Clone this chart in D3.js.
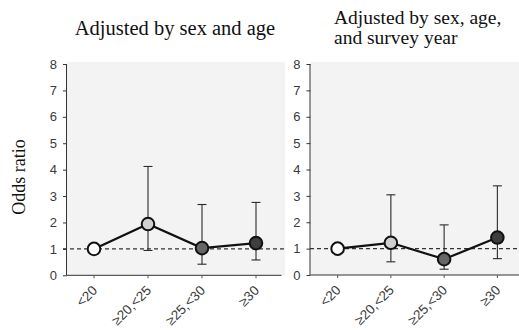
<!DOCTYPE html>
<html>
<head>
<meta charset="utf-8">
<script src="https://cdn.jsdelivr.net/npm/d3@7"></script>
<style>
  html, body { margin: 0; padding: 0; background: #fff; }
  svg { display: block; }
</style>
</head>
<body>
<svg id="chart" width="519" height="331"></svg>
<script>
// BMI categories and odds ratios (with 95% CI) for the two models
const categories = ["<20", "≥20,<25", "≥25,<30", "≥30"];
const orSexAge = [1.0, 1.94, 1.03, 1.22];
const lowSexAge = [null, 0.94, 0.42, 0.58];
const highSexAge = [null, 4.12, 2.68, 2.76];
const orSexAgeYear = [1.0, 1.22, 0.6, 1.42];
const lowSexAgeYear = [null, 0.5, 0.22, 0.62];
const highSexAgeYear = [null, 3.04, 1.9, 3.38];
const yTicks = [0, 1, 2, 3, 4, 5, 6, 7, 8];
const markerFills = ["#ffffff", "#d0d0d0", "#666666", "#3e3e3e"];
const referenceOR = 1;

const svg = d3.select("#chart");

const panels = [
  { or: orSexAge, low: lowSexAge, high: highSexAge,
    x0: 67, x1: 283, xPad0: 67, dashFrom: 63, dashTo: 285, bgTo: 285, y0: 275.3,
    title: ["Adjusted by sex and age"], titleX: 175, titleY: 35, anchor: "middle", lineGap: 0 },
  { or: orSexAgeYear, low: lowSexAgeYear, high: highSexAgeYear,
    x0: 310.5, x1: 524, xPad0: 311, dashFrom: 310, dashTo: 519, bgTo: 519, y0: 275,
    title: ["Adjusted by sex, age,", "and survey year"], titleX: 334, titleY: 24, anchor: "start", lineGap: 20 }
];

panels.forEach(p => {
  const g = svg.append("g");
  const y = d3.scaleLinear().domain([0, 8]).range([p.y0, 64]);
  const x = d3.scalePoint().domain(categories).range([p.xPad0, p.x1]).padding(0.5);

  // plot background
  g.append("rect")
    .attr("x", p.x0).attr("y", y(8.08))
    .attr("width", p.bgTo - p.x0).attr("height", y(0) - y(8.08))
    .attr("fill", "#f3f3f3");

  // y axis
  const yAxis = d3.axisLeft(y).tickValues(yTicks).tickSize(4).tickPadding(6)
    .tickFormat(d3.format("d"));
  const ya = g.append("g").attr("transform", `translate(${p.x0},0)`).call(yAxis);
  ya.select(".domain").attr("stroke", "#333").attr("d", `M-0.5,${y(8)}V${y(0)}`);
  ya.selectAll(".tick line").attr("stroke", "#333");
  ya.selectAll(".tick text")
    .attr("font-family", "'Liberation Sans', Arial, sans-serif")
    .attr("font-size", 13).attr("fill", "#3a3a3a");

  // x axis
  const xa = g.append("g").attr("transform", `translate(0,${y(0)})`);
  xa.append("line").attr("x1", p.x0).attr("x2", p.x1 - (p.x1 > 519 ? 0 : 1.5))
    .attr("stroke", "#333");
  xa.selectAll("line.tk").data(categories).join("line").attr("class", "tk")
    .attr("x1", d => x(d)).attr("x2", d => x(d)).attr("y1", 0).attr("y2", 3)
    .attr("stroke", "#555");
  xa.selectAll("text").data(categories).join("text")
    .attr("transform", d => `translate(${x(d) + 4},${16}) rotate(-45)`)
    .attr("text-anchor", "end")
    .attr("font-family", "'Liberation Sans', Arial, sans-serif")
    .attr("font-size", 13.5).attr("fill", "#3a3a3a")
    .text(d => d);

  // reference line at OR = 1
  g.append("line")
    .attr("x1", p.dashFrom).attr("x2", p.dashTo)
    .attr("y1", y(referenceOR)).attr("y2", y(referenceOR))
    .attr("stroke", "#333").attr("stroke-width", 1.3)
    .attr("stroke-dasharray", "4,3");

  // confidence intervals
  const ci = categories.map((c, i) => ({ c, lo: p.low[i], hi: p.high[i] }))
    .filter(d => d.lo != null);
  const eb = g.append("g").attr("stroke", "#2a2a2a").attr("stroke-width", 1.1);
  eb.selectAll("line.v").data(ci).join("line").attr("class", "v")
    .attr("x1", d => x(d.c)).attr("x2", d => x(d.c))
    .attr("y1", d => y(d.lo)).attr("y2", d => y(d.hi));
  eb.selectAll("line.capH").data(ci).join("line").attr("class", "capH")
    .attr("x1", d => x(d.c) - 4.5).attr("x2", d => x(d.c) + 4.5)
    .attr("y1", d => y(d.hi)).attr("y2", d => y(d.hi));
  eb.selectAll("line.capL").data(ci).join("line").attr("class", "capL")
    .attr("x1", d => x(d.c) - 4.5).attr("x2", d => x(d.c) + 4.5)
    .attr("y1", d => y(d.lo)).attr("y2", d => y(d.lo));

  // connecting line and markers
  const pts = categories.map((c, i) => ({ c, v: p.or[i], fill: markerFills[i] }));
  g.append("path").datum(pts)
    .attr("d", d3.line().x(d => x(d.c)).y(d => y(d.v)))
    .attr("fill", "none").attr("stroke", "#111").attr("stroke-width", 2.2);
  g.selectAll("circle").data(pts).join("circle")
    .attr("cx", d => x(d.c)).attr("cy", d => y(d.v)).attr("r", 6.3)
    .attr("fill", d => d.fill).attr("stroke", "#111").attr("stroke-width", 2);

  // panel title, one text element per line
  p.title.forEach((line, i) => {
    svg.append("text")
      .attr("x", p.titleX).attr("y", p.titleY + i * p.lineGap)
      .attr("text-anchor", p.anchor)
      .attr("font-family", "'Liberation Serif', 'Times New Roman', serif")
      .attr("font-size", p.title.length > 1 ? 19.5 : 20.5).attr("fill", "#111")
      .text(line);
  });
});

// shared y-axis label
svg.append("text")
  .attr("transform", "translate(25,177) rotate(-90)")
  .attr("text-anchor", "middle")
  .attr("font-family", "'Liberation Serif', 'Times New Roman', serif")
  .attr("font-size", 18).attr("fill", "#111")
  .text("Odds ratio");
</script>
</body>
</html>
